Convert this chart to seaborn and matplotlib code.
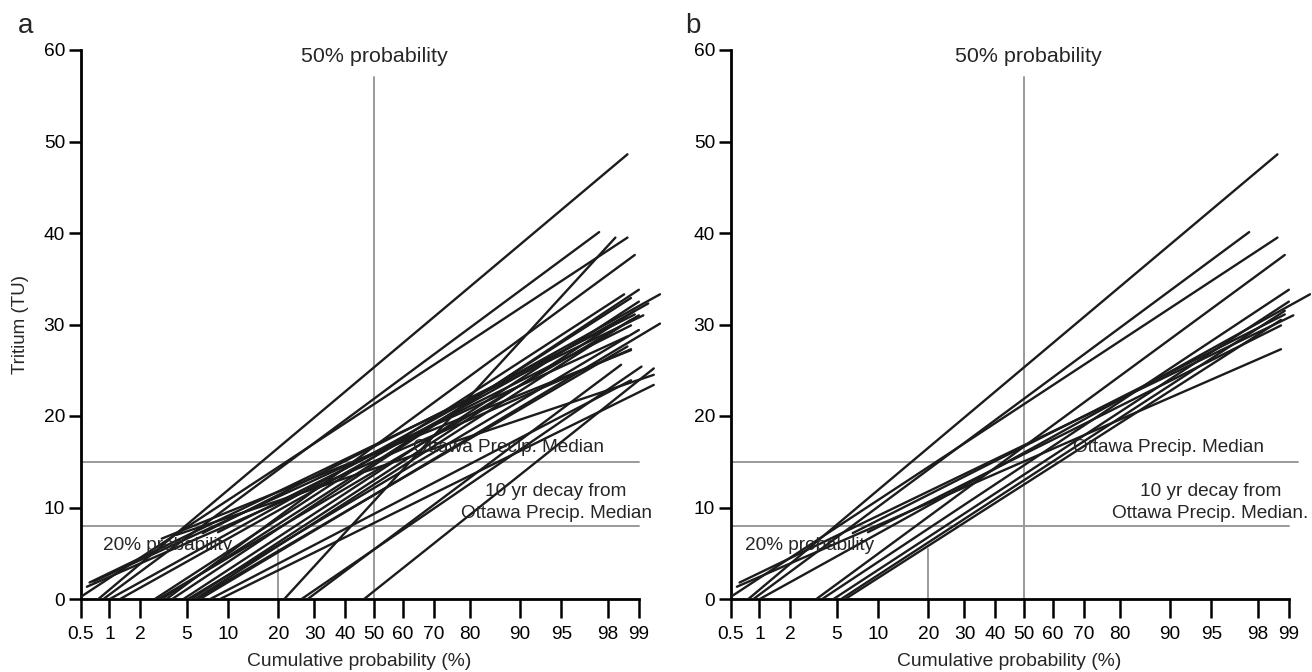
import numpy as np
import pandas as pd
import matplotlib
matplotlib.use("Agg")
import matplotlib.pyplot as plt
import seaborn as sns
from statistics import NormalDist

# ---------------- data (cumulative probability %, tritium TU) ----------------
# panel a: start / end of every fitted probability line
a_p0 = [0.77, 0.87, 0.5, 3.4, 1.01, 0.58, 0.62, 6.6, 8.5, 3.8, 4.7, 5.4, 5.8,
        21.5, 26.2, 28.0, 46.5, 0.68, 1.28, 2.7, 2.9, 3.1, 4.1, 5.1, 5.9, 6.3,
        7.5, 8.8, 3.1]
a_t0 = [0, 0, 0.25, 0, 0, 1.34, 1.8, 7.2, 7.3, 0, 0, 0, 0,
        0, 0, 0, 0, 1.9, 0, 0, 0, 0, 7.0, 0, 0, 0,
        0, 0, 6.6]
a_p1 = [98.7, 97.6, 98.7, 98.9, 99.4, 98.8, 99.1, 98.9, 98.8, 99.0, 99.0, 98.9, 98.8,
        98.3, 99.06, 98.5, 99.3, 98.7, 99.2, 98.6, 99.0, 98.8, 99.3, 99.0, 98.7, 99.4,
        98.8, 99.3, 98.8]
a_t1 = [48.6, 40.1, 39.5, 37.6, 33.3, 27.3, 31.0, 31.1, 29.9, 33.8, 32.5, 31.5, 30.5,
        39.5, 25.4, 25.6, 25.2, 28.7, 32.3, 33.3, 31.0, 32.9, 24.5, 29.4, 27.6, 30.1,
        23.9, 23.4, 27.2]

# panel b
b_p0 = [0.77, 0.87, 0.5, 3.4, 1.01, 0.58, 0.62, 6.6, 8.5, 3.8, 4.7, 5.4, 5.8]
b_t0 = [0, 0, 0.25, 0, 0, 1.34, 1.8, 7.2, 7.3, 0, 0, 0, 0]
b_p1 = [98.7, 97.6, 98.7, 98.9, 99.4, 98.8, 99.1, 98.9, 98.8, 99.0, 99.0, 98.9, 98.8]
b_t1 = [48.6, 40.1, 39.5, 37.6, 33.3, 27.3, 31.0, 31.1, 29.9, 33.8, 32.5, 31.5, 30.5]

x_ticks = [0.5, 1, 2, 5, 10, 20, 30, 40, 50, 60, 70, 80, 90, 95, 98, 99]
x_tick_labels = ["0.5", "1", "2", "5", "10", "20", "30", "40", "50", "60", "70",
                 "80", "90", "95", "98", "99"]
y_ticks = [0, 10, 20, 30, 40, 50, 60]

precip_median = 15      # TU
decay_10yr = 8          # TU
prob_50 = 50
prob_20 = 20

# ---------------- probability (probit) scale ----------------
_nd = NormalDist()
_ppf = np.vectorize(lambda q: _nd.inv_cdf(min(max(q, 1e-9), 1 - 1e-9)), otypes=[float])
_cdf = np.vectorize(_nd.cdf, otypes=[float])


def fwd(p):
    return _ppf(np.asarray(p, dtype=float) / 100.0)


def inv(z):
    return _cdf(np.asarray(z, dtype=float)) * 100.0


def lines_frame(p0, t0, p1, t1):
    rows = []
    for i, (a, b, c, d) in enumerate(zip(p0, t0, p1, t1)):
        rows.append({"id": i, "p": a, "t": b})
        rows.append({"id": i, "p": c, "t": d})
    return pd.DataFrame(rows)


sns.set_theme(style="white")
plt.rcParams["font.family"] = ["Liberation Sans", "DejaVu Sans"]

W, H = 1312, 672
fig = plt.figure(figsize=(W / 100, H / 100), dpi=100)

XMAX = 99.42
pxz = 113.8  # pixels per probit unit


def make_axes(left_px):
    z0 = float(fwd(0.5))
    z1 = float(fwd(XMAX))
    width_px = (z1 - z0) * pxz
    return fig.add_axes([left_px / W, (H - 599) / H, width_px / W, 549 / H])


LINE_C = "#1c1c1c"
GREY = "#9a9a9a"
TICK_FS = 13.8
ANN_FS = 13.7

panels = [
    (81, 99.0, lines_frame(a_p0, a_t0, a_p1, a_t1), True,
     dict(t50=50, om=(63.3, 16.6), dec=94.5, p20=(0.86, 5.9), dec2="Ottawa Precip. Median")),
    (731, 99.2, lines_frame(b_p0, b_t0, b_p1, b_t1), False,
     dict(t50=51.4, om=(66.6, 16.6), dec=94.9, p20=(0.71, 5.9), dec2="Ottawa Precip. Median.")),
]

for left_px, h15_end, df, ylab, tx in panels:
    ax = make_axes(left_px)
    ax.set_xscale("function", functions=(fwd, inv))
    # reference lines
    ax.plot([0.5, h15_end], [precip_median, precip_median], color=GREY, lw=1.4, zorder=1)
    ax.plot([0.5, 99], [decay_10yr, decay_10yr], color=GREY, lw=1.4, zorder=1)
    ax.plot([prob_50, prob_50], [0, 57.1], color=GREY, lw=1.4, zorder=1)
    ax.plot([prob_20, prob_20], [0, 5.5], color=GREY, lw=1.4, zorder=1)
    sns.lineplot(data=df, x="p", y="t", units="id", estimator=None, sort=False,
                 color=LINE_C, lw=1.7, ax=ax, legend=False, zorder=3)
    ax.set_xlim(0.5, XMAX)
    ax.set_ylim(0, 60)
    ax.set_xticks(x_ticks)
    ax.set_xticklabels(x_tick_labels)
    ax.set_yticks(y_ticks)
    ax.xaxis.set_minor_locator(matplotlib.ticker.NullLocator())
    for s in ["top", "right"]:
        ax.spines[s].set_visible(False)
    for s in ["left", "bottom"]:
        ax.spines[s].set_linewidth(2.0)
        ax.spines[s].set_color("black")
    ax.spines["bottom"].set_bounds(0.5, 99)
    ax.tick_params(axis="x", direction="out", length=13.5, width=1.8, pad=6,
                   labelsize=TICK_FS, colors="black", bottom=True)
    ax.tick_params(axis="y", direction="out", length=8.5, width=1.8, pad=3,
                   labelsize=TICK_FS, colors="black", left=True)
    ax.set_xlabel("Cumulative probability (%)", fontsize=13.9)
    ax.xaxis.set_label_coords(0.48, -0.098)
    if ylab:
        ax.set_ylabel("Tritium (TU)", fontsize=13.5)
        ax.yaxis.set_label_coords(-0.089, 0.5)
    else:
        ax.set_ylabel("")
    ax.grid(False)
    ax.set_facecolor("none")

    ax.text(tx["t50"], 59.3, "50% probability", ha="center", va="center", fontsize=15.4)
    ax.text(tx["om"][0], tx["om"][1], "Ottawa Precip. Median", ha="left", va="center",
            fontsize=ANN_FS, zorder=4)
    ax.text(tx["dec"], 11.8, "10 yr decay from", ha="center", va="center",
            fontsize=ANN_FS, zorder=4)
    ax.text(tx["dec"], 9.3, tx["dec2"], ha="center", va="center", fontsize=ANN_FS, zorder=4)
    ax.text(tx["p20"][0], tx["p20"][1], "20% probability", ha="left", va="center",
            fontsize=ANN_FS, zorder=4)

fig.text(26 / W, 1 - 26 / H, "a", fontsize=20, ha="center", va="center")
fig.text(693 / W, 1 - 26 / H, "b", fontsize=20, ha="center", va="center")

fig.savefig("out.png", dpi=100)
